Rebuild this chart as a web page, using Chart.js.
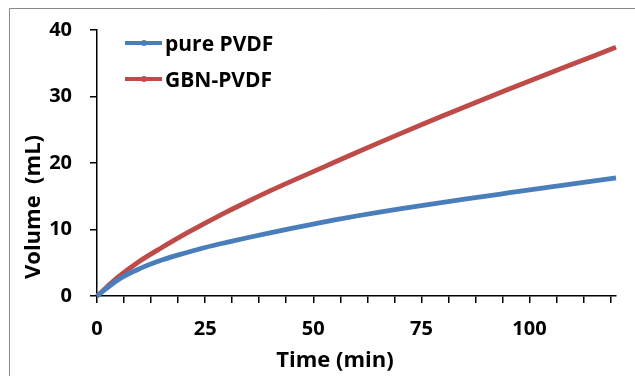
<!DOCTYPE html>
<html>
<head>
<meta charset="utf-8">
<script src="https://cdn.jsdelivr.net/npm/chart.js@4/dist/chart.umd.min.js"></script>
<style>
  body { margin: 0; background: #fff; }
  #wrap { position: relative; width: 635px; height: 376px; }
  .legend { position: absolute; left: 125px; top: 25px; font: bold 21px "Open Sans", sans-serif; color: #000; }
  .legend .row { display: flex; align-items: center; height: 36px; }
  .legend .swatch { position: relative; width: 37px; height: 4px; margin-right: 3px; }
  .legend .swatch i { position: absolute; left: 16px; top: -1px; width: 6px; height: 6px; border-radius: 50%; }
</style>
</head>
<body>
<div id="wrap">
  <canvas id="volumeChart" width="635" height="376"></canvas>
  <div class="legend" id="legend"></div>
</div>
<script>
// time (min)
const times = [0, 5, 10, 15, 20, 25, 30, 35, 40, 45, 50, 55, 60,
  65, 70, 75, 80, 85, 90, 95, 100, 105, 110, 115, 120];
// volume (mL)
const pureVolume = [0, 2.5, 4.15, 5.4, 6.4, 7.3, 8.07, 8.8, 9.5, 10.17, 10.82, 11.45, 12.03,
  12.57, 13.09, 13.59, 14.08, 14.56, 15.03, 15.49, 15.95, 16.4, 16.85, 17.3, 17.75];
const gbnVolume = [0, 2.9, 5.3, 7.3, 9.2, 10.95, 12.65, 14.25, 15.8, 17.27, 18.7, 20.15, 21.58,
  22.99, 24.38, 25.75, 27.1, 28.43, 29.74, 31.04, 32.33, 33.61, 34.88, 36.14, 37.39];
const seriesNames = ["pure PVDF", "GBN-PVDF"];
const seriesColors = ["#4A7EBB", "#BE4B48"];
const xTickLabels = [0, 25, 50, 75, 100];
const yTickLabels = [0, 10, 20, 30, 40];
const xTitle = "Time (min)";
const yTitle = "Volume  (mL)";

const FONT = '"Open Sans", sans-serif';

// legend (html)
const legend = document.getElementById("legend");
seriesNames.forEach((name, i) => {
  const row = document.createElement("div");
  row.className = "row";
  row.innerHTML = `<span class="swatch" style="background:${seriesColors[i]}"><i style="background:${seriesColors[i]}"></i></span>${name}`;
  legend.appendChild(row);
});

// outer frame + axis titles
const framePlugin = {
  id: "frame",
  beforeDraw(chart) {
    const ctx = chart.ctx;
    ctx.save();
    ctx.fillStyle = "#fff";
    ctx.fillRect(0, 0, chart.width, chart.height);
    ctx.strokeStyle = "#888";
    ctx.lineWidth = 1;
    ctx.beginPath();
    ctx.moveTo(9.5, chart.height);
    ctx.lineTo(9.5, 8.5);
    ctx.lineTo(chart.width, 8.5);
    ctx.stroke();
    ctx.restore();
  },
  afterDraw(chart) {
    const ctx = chart.ctx;
    ctx.save();
    ctx.fillStyle = "#000";
    ctx.font = "bold 22px " + FONT;
    ctx.textAlign = "center";
    ctx.textBaseline = "middle";
    ctx.fillText(xTitle, 335, 361);
    ctx.translate(34, 207);
    ctx.rotate(-Math.PI / 2);
    ctx.fillText(yTitle, 0, 0);
    ctx.restore();
  },
};

const makeData = (vals) => times.map((t, i) => ({ x: t, y: vals[i] }));

new Chart(document.getElementById("volumeChart"), {
  type: "line",
  data: {
    datasets: [
      {
        label: seriesNames[0],
        data: makeData(pureVolume),
        borderColor: seriesColors[0],
        borderWidth: 4.8,
        pointRadius: 0,
        cubicInterpolationMode: "monotone",
        clip: false,
      },
      {
        label: seriesNames[1],
        data: makeData(gbnVolume),
        borderColor: seriesColors[1],
        borderWidth: 4.8,
        pointRadius: 0,
        cubicInterpolationMode: "monotone",
        clip: false,
      },
    ],
  },
  options: {
    responsive: false,
    animation: false,
    layout: { padding: { top: 24, right: 19, left: 0, bottom: 0 } },
    plugins: { legend: { display: false }, tooltip: { enabled: false } },
    scales: {
      x: {
        type: "linear",
        min: 0,
        max: 120,
        afterFit: (s) => { s.height = 80; },
        border: { color: "#000", width: 1.5 },
        grid: { drawOnChartArea: false, color: "#000", lineWidth: 1.5, tickLength: 7 },
        ticks: {
          stepSize: 6.25,
          includeBounds: false,
          autoSkip: false,
          maxRotation: 0,
          padding: 14,
          color: "#000",
          font: { family: FONT, size: 20, weight: "bold" },
          callback: (v) => (xTickLabels.includes(v) ? String(v) : ""),
        },
      },
      y: {
        min: 0,
        max: 40,
        afterFit: (s) => { s.width = 97; },
        border: { color: "#000", width: 1.5 },
        grid: { drawOnChartArea: false, color: "#000", lineWidth: 1.5, tickLength: 7 },
        ticks: {
          stepSize: 10,
          padding: 18,
          color: "#000",
          font: { family: FONT, size: 20, weight: "bold" },
          callback: (v) => (yTickLabels.includes(v) ? String(v) : ""),
        },
      },
    },
  },
  plugins: [framePlugin],
});
</script>
</body>
</html>
